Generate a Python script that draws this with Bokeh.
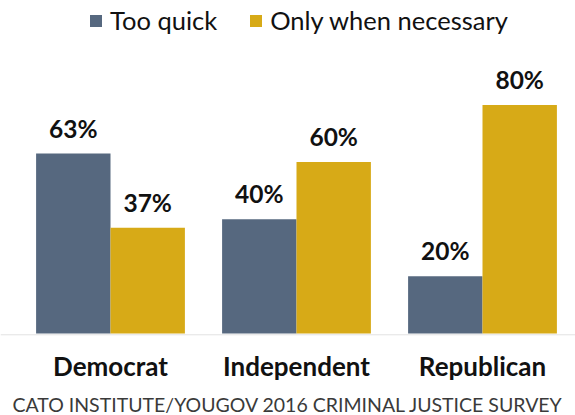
from bokeh.plotting import figure
from bokeh.models import ColumnDataSource, Legend, LegendItem, Label, Range1d, Span
from bokeh.transform import dodge
from bokeh.core.properties import value
from bokeh.embed import file_html
from bokeh.resources import INLINE

parties = ["Democrat", "Independent", "Republican"]
too_quick = [63, 40, 20]
only_necessary = [37, 60, 80]
series_names = ["Too quick", "Only when necessary"]
source_note = "CATO INSTITUTE/YOUGOV 2016 CRIMINAL JUSTICE SURVEY"

DARK = "#56687f"
GOLD = "#d7aa17"
FONT = "Lato"

src = ColumnDataSource(dict(
    party=parties,
    pos=list(range(len(parties))),
    q=too_quick,
    n=only_necessary,
    ql=[f"{v}%" for v in too_quick],
    nl=[f"{v}%" for v in only_necessary],
    base=[0] * len(parties),
))

# frame covers the whole figure; the area below 0 holds category labels and source note
p = figure(width=575, height=415, x_range=Range1d(-0.5914, 2.5), y_range=Range1d(-28.7, 116.55),
           output_backend="svg", toolbar_location=None,
           min_border_left=0, min_border_right=0, min_border_top=0, min_border_bottom=0)

r1 = p.vbar(x=dodge("pos", -0.2), top="q", width=0.4, source=src,
            color=DARK, line_color=None)
r2 = p.vbar(x=dodge("pos", 0.2), top="n", width=0.4, source=src,
            color=GOLD, line_color=None)

for col, off in (("ql", -0.2), ("nl", 0.2)):
    p.text(x=dodge("pos", off), y=col[0], text=col, source=src,
           y_offset=-11, text_align="center", text_baseline="bottom",
           text_font=value(FONT), text_font_style="bold", text_font_size="24.5px",
           text_color="#111111")

# baseline (axis line)
p.add_layout(Span(location=-0.45, dimension="width", line_color="#e2e2e2", line_width=1))

# category labels
p.text(x="pos", y="base", text="party", source=src, y_offset=32,
       text_align="center", text_baseline="middle",
       text_font=value(FONT), text_font_style="bold", text_font_size="26px",
       text_color="#111111")

p.xaxis.visible = False
p.yaxis.visible = False
p.xgrid.visible = False
p.ygrid.visible = False
p.outline_line_color = None

p.add_layout(Label(x=287.5, y=11, x_units="screen", y_units="screen", text=source_note,
                   text_align="center", text_baseline="middle", text_font=FONT,
                   text_font_size="19.5px", text_color="#3a3a3a"))

legend = Legend(items=[LegendItem(label=series_names[0], renderers=[r1]),
                       LegendItem(label=series_names[1], renderers=[r2])],
                orientation="horizontal", location=(88, 380),
                label_text_font=FONT, label_text_font_size="25.5px",
                label_text_color="#111111",
                glyph_width=15, glyph_height=15, label_standoff=7, spacing=31,
                border_line_color=None, background_fill_alpha=0,
                padding=0, margin=0)
p.add_layout(legend, "center")

open("out.html", "w").write(file_html(p, INLINE))
